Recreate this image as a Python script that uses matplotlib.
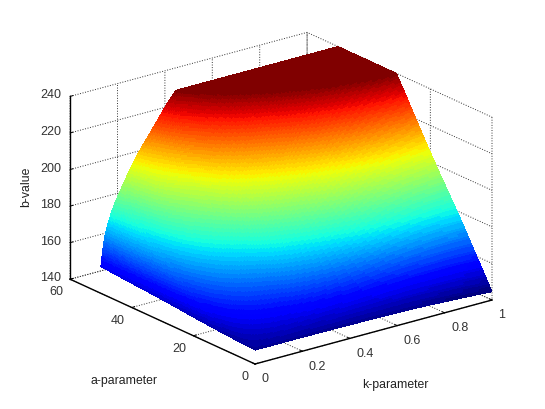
# -*- coding: utf-8 -*-
import numpy as np
import matplotlib
matplotlib.use("Agg")
import matplotlib.pyplot as plt
from mpl_toolkits.mplot3d import proj3d

plt.rcParams['font.family'] = ['Liberation Sans', 'DejaVu Sans']

#values, the surface is cut flat at b_cap
k_param = [0, 0.01, 0.02, 0.05, 0.1, 0.15, 0.2, 0.3, 0.4, 0.5, 0.6, 0.7, 0.8, 0.9, 1]
a_param = [0, 10, 20, 30, 40, 50]
b_a0 = [147.6, 147.6, 147.6, 147.6, 147.6, 147.6, 147.6, 147.5, 147.4, 147.2, 147, 146.7, 146, 145.4, 144.5]
b_a10 = [148.7, 151, 153, 156, 159, 161, 162, 166, 168, 170, 172, 174, 175, 176, 176]
b_a20 = [150.2, 156, 160, 165, 170, 174, 177, 184, 189, 193, 197, 200, 203, 204, 205]
b_a30 = [151.9, 160, 165, 173, 181, 187, 192, 203, 210, 216, 222, 227, 231, 234, 237]
b_a40 = [153.2, 163, 170, 179, 190, 199, 206, 221, 231, 239, 247, 254, 259, 263, 267]
b_a50 = [154.6, 166, 173, 185, 198, 210, 219, 238, 250, 262, 272, 280, 287, 292, 297]
b_cap = 240

k_ticks = [0, 0.2, 0.4, 0.6, 0.8, 1]
a_ticks = [0, 20, 40, 60]
b_ticks = [140, 160, 180, 200, 220, 240]

b_table = np.array([b_a0, b_a10, b_a20, b_a30, b_a40, b_a50])


def soften(values, n):
    #box filter along the rows, odd reflection keeps the edge values
    pad = np.pad(values, ((0, 0), (n, n)), mode='reflect', reflect_type='odd')
    box = np.ones(2 * n + 1) / (2 * n + 1)
    return np.array([np.convolve(r, box, mode='valid') for r in pad])


#finer mesh only so the colours run smoothly, like shading interp
k_fine = np.linspace(0, 1, 241) ** 2
a_fine = np.linspace(0, 50, 151)
rows = np.array([np.interp(k_fine, k_param, r) for r in b_table])
b_fine = np.array([np.interp(a_fine, a_param, rows[:, j]) for j in range(len(k_fine))]).T
b_fine = soften(b_fine, 8)
b_fine = soften(b_fine.T, 10).T
b_fine = np.minimum(b_fine, b_cap)
K, A = np.meshgrid(k_fine, a_fine)

W, H = 545, 409
fig = plt.figure(figsize=(W / 100, H / 100), dpi=100)
ax = fig.add_axes([0, 0, 1, 1], projection='3d')
ax.set_proj_type('ortho')
ax.view_init(elev=20.6, azim=-127.5)
ax.set_box_aspect((299, 304, 195.5))
ax.set_xlim(0, 1)
ax.set_ylim(0, 60)
ax.set_zlim(140, 240)

ax.plot_surface(K, A, b_fine, rstride=1, cstride=1, cmap=plt.get_cmap('jet', 64),
                vmin=145, vmax=240, linewidth=0, antialiased=False, shade=False)

ax.set_xticks(k_ticks)
ax.set_xticklabels(['0', '0.2', '0.4', '0.6', '0.8', '1'])
ax.set_yticks(a_ticks)
ax.set_zticks(b_ticks)
ax.tick_params(labelsize=9, labelcolor='#333333', pad=0)
ax.tick_params(axis='x', pad=-2)
ax.tick_params(axis='y', pad=-3)
ax.zaxis.set_ticks_position('upper')
for lab in ax.get_xticklabels():
    lab.set_ha('left')
for lab in ax.get_yticklabels():
    lab.set_ha('right')
for lab in ax.get_zticklabels():
    lab.set_va('center')
for axis in [ax.xaxis, ax.yaxis, ax.zaxis]:
    axis.set_pane_color((1, 1, 1, 0))
    axis.pane.set_edgecolor((1, 1, 1, 0))
    axis.line.set_color('k')
    axis.line.set_linewidth(1)
    axis._axinfo['grid'].update(color='#333333', linestyle=':', linewidth=0.7)
    axis._axinfo['tick'].update(inward_factor=0, outward_factor=0.15, linewidth={True: 0.7, False: 0.5})


def to_screen(k, a, b):
    x, y, _ = proj3d.proj_transform(k, a, b, ax.get_proj())
    return ax.transData.transform((x, y))


#put the box where it is in the picture: corner k=0,a=0,b=140 and k=1,a=0,b=140
ax.apply_aspect()
pos = ax.get_position()
p0 = to_screen(0, 0, 140)
p1 = to_screen(1, 0, 140)
scale = np.hypot(237, 64) / np.hypot(*(p1 - p0))
side = pos.width * W * scale
ax.set_position([pos.x0, pos.y0, side / W, side / H])
ax.apply_aspect()
pos = ax.get_position()
p0 = to_screen(0, 0, 140)
ax.set_position([pos.x0 + (255 - p0[0]) / W, pos.y0 + (H - 364 - p0[1]) / H, pos.width, pos.height])

fig.text(26 / W, 1 - 187 / H, 'b-value', rotation=90, ha='center', va='center', fontsize=8.8, color='#222222')
fig.text(124 / W, 1 - 381 / H, 'a-parameter', ha='center', va='center', fontsize=8.8, color='#222222')
fig.text(395 / W, 1 - 385 / H, 'k-parameter', ha='center', va='center', fontsize=8.8, color='#222222')

fig.savefig('out.png', dpi=100)
